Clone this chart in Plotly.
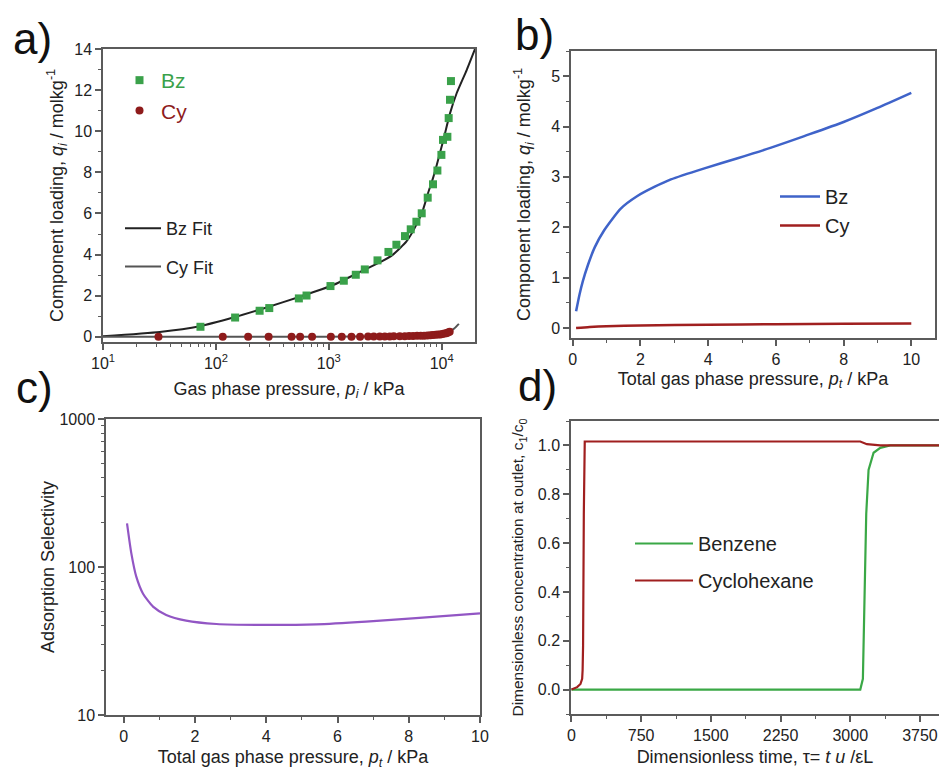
import plotly.graph_objects as go

# ---------- a) single-component isotherms (log pressure) ----------
bz_p = [73, 148, 244, 297, 543, 635, 1035, 1358, 1734, 2084, 2700, 3376, 3970,
        4733, 5318, 5970, 6654, 7517, 8377, 9160, 9940, 10270, 11230, 11530, 11840, 12080]
bz_q = [0.49, 0.94, 1.27, 1.40, 1.87, 2.01, 2.47, 2.73, 3.02, 3.28, 3.72, 4.13, 4.48,
        4.90, 5.23, 5.60, 6.01, 6.77, 7.42, 8.09, 8.85, 9.58, 9.73, 10.64, 11.53, 12.44]

cy_p = [31, 115, 193, 293, 468, 557, 711, 1043, 1303, 1588, 1893, 2228, 2502, 2827,
        3130, 3467, 3760, 4250, 4707, 5140, 5575, 6048, 6525, 6980, 7470, 7946, 8377,
        8850, 9285, 9730, 10140, 10560, 11000, 11370, 11770]
cy_q = [0.0, 0.0, 0.0, 0.0, 0.0, 0.0, 0.0, 0.01, 0.01, 0.01, 0.01, 0.02, 0.02, 0.02,
        0.02, 0.02, 0.03, 0.03, 0.03, 0.04, 0.04, 0.05, 0.05, 0.06, 0.07, 0.08, 0.09,
        0.10, 0.11, 0.12, 0.14, 0.16, 0.18, 0.21, 0.25]

bz_fit_p = [10, 31.8, 72, 142, 281, 555, 1096, 1879, 2825, 3706, 4875, 5975, 6838,
            7574, 8377, 9040, 10350, 11860, 13590, 16680, 19720]
bz_fit_q = [0.03, 0.24, 0.52, 0.94, 1.43, 1.95, 2.52, 3.15, 3.62, 4.0, 4.64, 5.46,
            6.19, 7.0, 7.72, 8.36, 9.58, 10.88, 11.86, 12.99, 14.0]

cy_fit_p = [10, 100, 1000, 3000, 6000, 9000, 11000, 11770, 13000, 14200]
cy_fit_q = [0.0, 0.0, 0.01, 0.02, 0.05, 0.10, 0.18, 0.26, 0.42, 0.63]

# ---------- b) mixture loadings ----------
pt_bz = [0.1, 0.2, 0.3, 0.45, 0.65, 0.93, 1.42, 1.91, 2.41, 2.9, 3.89, 4.87, 5.86,
         6.84, 8.0, 9.0, 10.0]
q_bz = [0.33, 0.66, 0.93, 1.25, 1.6, 1.94, 2.37, 2.62, 2.8, 2.95, 3.17, 3.37, 3.58,
        3.81, 4.09, 4.37, 4.67]
pt_cy = [0.1, 0.5, 1, 2, 4, 6, 8, 10]
q_cy = [0.0, 0.02, 0.035, 0.05, 0.065, 0.075, 0.085, 0.09]

# ---------- c) adsorption selectivity ----------
pt_sel = [0.09, 0.21, 0.35, 0.54, 0.82, 1.19, 1.75, 2.6, 4.0, 5.4, 6.8, 8.2, 10.0]
selectivity = [197, 124, 86, 66, 54, 47.4, 43.4, 41.2, 40.6, 41.0, 42.8, 45.2, 48.6]

# ---------- d) breakthrough curves ----------
tau_cy = [0, 61, 97, 115, 120, 125, 133, 138, 143, 3108, 3179, 3323, 3955]
c_cy = [0, 0.01, 0.023, 0.044, 0.08, 0.18, 0.72, 0.95, 1.016, 1.016, 1.005, 1.0, 1.0]
tau_bz = [0, 3108, 3136, 3151, 3172, 3197, 3251, 3323, 3430, 3955]
c_bz = [0, 0, 0.044, 0.32, 0.72, 0.90, 0.97, 0.99, 1.0, 1.0]

GREEN = "#3aa14a"
DARKRED = "#8e1b1b"
BLUE = "#3f63c9"
RED = "#a01f1f"
PURPLE = "#9256c4"
BZ_GREEN = "#3aa846"
FONT = "Liberation Sans, Arial, sans-serif"

fig = go.Figure()

# a)
fig.add_trace(go.Scatter(x=bz_fit_p, y=bz_fit_q, mode="lines", name="Bz Fit",
                         line=dict(color="#222222", width=2, shape="spline", smoothing=0.5),
                         xaxis="x", yaxis="y", legend="legend2", legendgroup="g1"))
fig.add_trace(go.Scatter(x=cy_fit_p, y=cy_fit_q, mode="lines", name="Cy Fit",
                         line=dict(color="#555555", width=2, shape="spline", smoothing=0.6),
                         xaxis="x", yaxis="y", legend="legend2", legendgroup="g2"))
fig.add_trace(go.Scatter(x=bz_p, y=bz_q, mode="markers",
                         name=f"<span style='color:{GREEN}'>Bz</span>",
                         marker=dict(symbol="square", size=8, color=GREEN),
                         xaxis="x", yaxis="y", legend="legend"))
fig.add_trace(go.Scatter(x=cy_p, y=cy_q, mode="markers",
                         name=f"<span style='color:{DARKRED}'>Cy</span>",
                         marker=dict(symbol="circle", size=8, color=DARKRED),
                         xaxis="x", yaxis="y", legend="legend"))

# b)
fig.add_trace(go.Scatter(x=pt_bz, y=q_bz, mode="lines", name="Bz",
                         line=dict(color=BLUE, width=2.5, shape="spline", smoothing=0.6),
                         xaxis="x2", yaxis="y2", legend="legend3"))
fig.add_trace(go.Scatter(x=pt_cy, y=q_cy, mode="lines", name="Cy",
                         line=dict(color=RED, width=2.5, shape="spline", smoothing=0.6),
                         xaxis="x2", yaxis="y2", legend="legend3"))

# c)
fig.add_trace(go.Scatter(x=pt_sel, y=selectivity, mode="lines", showlegend=False,
                         line=dict(color=PURPLE, width=2.2, shape="spline", smoothing=0.6),
                         xaxis="x3", yaxis="y3"))

# d)
fig.add_trace(go.Scatter(x=tau_bz, y=c_bz, mode="lines", name="Benzene",
                         line=dict(color=BZ_GREEN, width=2.2),
                         xaxis="x4", yaxis="y4", legend="legend4", legendgroup="d1"))
fig.add_trace(go.Scatter(x=tau_cy, y=c_cy, mode="lines", name="Cyclohexane",
                         line=dict(color=RED, width=2.2),
                         xaxis="x4", yaxis="y4", legend="legend4", legendgroup="d2"))

W, H = 939, 770


def px_x(v):
    return v / W


def px_y(v):
    return 1 - v / H


base = dict(showline=True, linecolor="#5b5b5b", linewidth=1.5, mirror=True,
            ticks="outside", ticklen=6, tickwidth=1.5, tickcolor="#5b5b5b",
            showgrid=False, zeroline=False, automargin=False,
            tickfont=dict(size=16, color="#222222", family=FONT),
            title_font=dict(size=18, color="#222222", family=FONT))


def minor(dtick=None, vals=None):
    m = dict(ticks="outside", ticklen=3, tickwidth=1.2, tickcolor="#5b5b5b", showgrid=False)
    if dtick is not None:
        m["dtick"] = dtick
    if vals is not None:
        m["tickvals"] = vals
    return m


log_minor_a = [k * 10 ** e for e in (1, 2, 3) for k in range(2, 10)]
log_minor_c = [k * 10 ** e for e in (1, 2) for k in range(2, 10)]

loading_title = "Component loading, <i>q<sub>i</sub></i> / molkg<sup>-1</sup>"

fig.update_layout(
    width=W, height=H, margin=dict(l=0, r=0, t=0, b=0),
    paper_bgcolor="white", plot_bgcolor="white",
    font=dict(family=FONT, color="#222222"),
    xaxis=dict(base, type="log", domain=[px_x(103), px_x(475)], range=[1, 4.295],
               anchor="y", tickvals=[10, 100, 1000, 10000],
               ticktext=["10<sup>1</sup>", "10<sup>2</sup>", "10<sup>3</sup>", "10<sup>4</sup>"],
               minor=minor(vals=log_minor_a),
               title=dict(text="Gas phase pressure, <i>p<sub>i</sub></i> / kPa", standoff=11)),
    yaxis=dict(base, domain=[px_y(342), px_y(49)], range=[-0.25, 14], anchor="x",
               dtick=2, tick0=0, minor=minor(dtick=1),
               title=dict(text=loading_title, standoff=6)),
    xaxis2=dict(base, domain=[px_x(571), px_x(935)], range=[-0.05, 10.7], anchor="y2",
                dtick=2, tick0=0, minor=minor(dtick=1),
                title=dict(text="Total gas phase pressure, <i>p<sub>t</sub></i> / kPa", standoff=5)),
    yaxis2=dict(base, domain=[px_y(338), px_y(51)], range=[-0.2, 5.5], anchor="x2",
                dtick=1, tick0=0, minor=minor(dtick=0.5),
                title=dict(text=loading_title, standoff=16)),
    xaxis3=dict(base, domain=[px_x(106), px_x(480)], range=[-0.5, 10], anchor="y3",
                dtick=2, tick0=0, minor=minor(dtick=1),
                title=dict(text="Total gas phase pressure, <i>p<sub>t</sub></i> / kPa", standoff=7)),
    yaxis3=dict(base, type="log", domain=[px_y(715), px_y(419)], range=[1, 3], anchor="x3",
                tickvals=[10, 100, 1000], ticktext=["10", "100", "1000"],
                minor=minor(vals=log_minor_c),
                title=dict(text="Adsorption Selectivity", standoff=0)),
    xaxis4=dict(base, domain=[px_x(571), 1.0], range=[-5, 3955], anchor="y4",
                dtick=750, tick0=0, minor=minor(dtick=375),
                title=dict(text="Dimensionless time, τ= <i>t u</i> /εL", standoff=7)),
    yaxis4=dict(base, domain=[px_y(714), px_y(421)], range=[-0.1, 1.1], anchor="x4",
                dtick=0.2, tick0=0, tickformat=".1f", minor=minor(dtick=0.1), mirror=False,
                title=dict(text="Dimensionless concentration at outlet, c<sub>1</sub>/c<sub>0</sub>",
                           standoff=10, font=dict(size=15.5))),
    legend=dict(x=px_x(118), y=px_y(60), xanchor="left", yanchor="top",
                font=dict(size=21, family=FONT), bgcolor="rgba(0,0,0,0)",
                traceorder="normal", itemwidth=33),
    legend2=dict(x=px_x(120), y=px_y(210), xanchor="left", yanchor="top",
                 font=dict(size=18, family=FONT, color="#222222"), bgcolor="rgba(0,0,0,0)",
                 traceorder="grouped", tracegroupgap=12, itemwidth=36),
    legend3=dict(x=px_x(775), y=px_y(177), xanchor="left", yanchor="top",
                 font=dict(size=20, family=FONT, color="#222222"), bgcolor="rgba(0,0,0,0)",
                 itemwidth=40),
    legend4=dict(x=px_x(630), y=px_y(524), xanchor="left", yanchor="top",
                 font=dict(size=20, family=FONT, color="#222222"), bgcolor="rgba(0,0,0,0)",
                 traceorder="grouped", tracegroupgap=8, itemwidth=58),
)

# Panel letters
for label, cx, cy in [("a)", 32, 38), ("b)", 534, 35), ("c)", 34, 388), ("d)", 537, 385)]:
    fig.add_annotation(text=label, x=px_x(cx), y=px_y(cy), xref="paper", yref="paper",
                       xanchor="center", yanchor="middle", showarrow=False,
                       font=dict(size=44, family=FONT, color="#111111"))

fig.write_html("out.html")
